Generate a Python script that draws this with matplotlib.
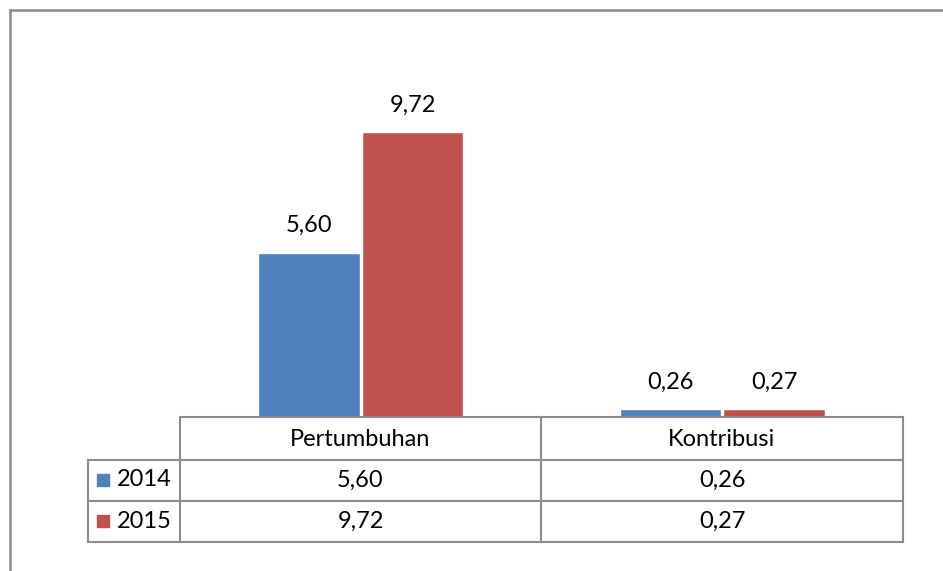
import matplotlib.pyplot as plt
from matplotlib.lines import Line2D

# data
kategori = ['Pertumbuhan', 'Kontribusi']
tahun = ['2014', '2015']
nilai_2014 = [5.60, 0.26]
nilai_2015 = [9.72, 0.27]
warna = ['#4F81BD', '#C0504D']

plt.rcParams['font.family'] = ['Lato', 'DejaVu Sans']
fs = 17

W, H = 943, 571
fig = plt.figure(figsize=(W / 100, H / 100), dpi=100)

def fx(px):
    return px / W

def fy(py):
    return 1 - py / H

# bingkai (hanya kiri dan atas yang terlihat)
fig.add_artist(Line2D([fx(10), fx(10)], [fy(10), 0], color='#8c8c8c', lw=1.8))
fig.add_artist(Line2D([fx(10), 1], [fy(10), fy(10)], color='#8c8c8c', lw=1.8))

# grafik batang
ax = fig.add_axes([fx(180), fy(417), fx(903) - fx(180), fy(65) - fy(417)])
x = range(len(kategori))
lebar = 0.28
seri = [nilai_2014, nilai_2015]
for i, vals in enumerate(seri):
    off = (i - 0.5) * 0.286
    pos = [k + off for k in x]
    bars = ax.bar(pos, vals, width=lebar, color=warna[i], edgecolor='white', linewidth=1)
    for b, v in zip(bars, vals):
        ax.annotate(f'{v:.2f}'.replace('.', ','), (b.get_x() + b.get_width() / 2, v),
                    xytext=(0, 27), textcoords='offset pixels', ha='center', va='center',
                    fontsize=fs, color='black')
ax.set_xlim(-0.5, 1.5)
ax.set_ylim(0, 12)
ax.axis('off')

# tabel data
tb = fig.add_axes([fx(88), fy(542), fx(903) - fx(88), fy(417) - fy(542)])
tb.set_xlim(88, 903)
tb.set_ylim(542, 417)
tb.axis('off')
gc = '#8c8c8c'
lw = 1.5
tb.plot([180, 903], [417, 417], color=gc, lw=lw, clip_on=False)
for yy in [460, 501, 542]:
    tb.plot([88, 903], [yy, yy], color=gc, lw=lw, clip_on=False)
tb.plot([88, 88], [460, 542], color=gc, lw=lw, clip_on=False)
for xx in [180, 541, 903]:
    tb.plot([xx, xx], [417, 542], color=gc, lw=lw, clip_on=False)

kolom_x = [360.5, 722]
for k, nama in enumerate(kategori):
    tb.text(kolom_x[k], 439, nama, ha='center', va='center', fontsize=fs)
baris_y = [480, 521]
for i, vals in enumerate(seri):
    tb.add_patch(plt.Rectangle((97, baris_y[i] - 6), 12, 12, color=warna[i], clip_on=False))
    tb.text(117, baris_y[i], tahun[i], ha='left', va='center', fontsize=fs)
    for k, v in enumerate(vals):
        tb.text(kolom_x[k], baris_y[i], f'{v:.2f}'.replace('.', ','), ha='center', va='center', fontsize=fs)

fig.savefig('out.png', dpi=100, facecolor='white')
